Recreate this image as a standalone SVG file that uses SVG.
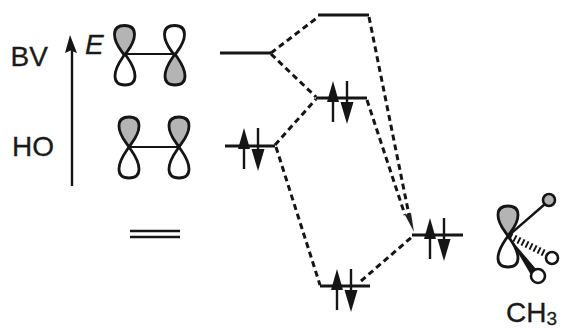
<svg xmlns="http://www.w3.org/2000/svg" width="563" height="329" viewBox="0 0 563 329">
<style>
.t{font-family:"Liberation Sans",Arial,sans-serif;font-size:28px;fill:#1a1a1a;stroke:#1a1a1a;stroke-width:.3}
.lobe{stroke:#151515;stroke-width:2.8;stroke-linejoin:round}
.w{fill:#fff}.g{fill:#b4b4b4}
.bond{stroke:#151515;stroke-width:2.2;fill:none}
.lvl{stroke:#151515;stroke-width:2.8;fill:none}
.dash{stroke:#151515;stroke-width:3;stroke-dasharray:6 4;fill:none}
.a{stroke:#151515;stroke-width:2.4;fill:none}
.h{fill:#151515}
</style>
<defs>
<path id="lobeUp" d="M0,0 C-4,-6 -10,-12 -10,-21 C-10,-28 -6,-30 0,-30 C6,-30 10,-28 10,-21 C10,-12 4,-6 0,0Z"/>
<path id="lobeDn" d="M0,0 C-4,6 -10,13 -10,22 C-10,29 -6,31 0,31 C6,31 10,29 10,22 C10,13 4,6 0,0Z"/>
<g id="pair">
<path class="a" d="M0,14V41M14,0V30"/>
<path class="h" d="M0,0L6,21H-6Z"/>
<path class="h" d="M14,43L7.500,21H20.500Z"/>
</g>
</defs>

<g id="axis">
<path d="M72,186V48" stroke="#151515" stroke-width="2.4" fill="none"/>
<path class="h" d="M70,35L77,53L70.500,50.500L65,53Z"/>
<text class="t" x="85" y="54" font-style="italic">E</text>
</g>
<g id="label-bv"><text class="t" x="10.500" y="66">BV</text></g>
<g id="label-ho"><text class="t" x="12" y="156">HO</text></g>

<g id="orbital-bv">
<path class="bond" d="M125,54H175"/>
<use href="#lobeUp" x="124.500" y="55.500" class="lobe g"/>
<use href="#lobeDn" x="125" y="54" class="lobe w"/>
<use href="#lobeUp" x="174.500" y="55.500" class="lobe w"/>
<use href="#lobeDn" x="175" y="54" class="lobe g"/>
</g>
<g id="orbital-ho">
<path class="bond" d="M130,147H178"/>
<use href="#lobeUp" x="129" y="147" class="lobe g"/>
<use href="#lobeDn" x="129" y="147" class="lobe w"/>
<use href="#lobeUp" x="179" y="147" class="lobe g"/>
<use href="#lobeDn" x="179" y="147" class="lobe w"/>
</g>
<g id="double-bond">
<path d="M130,231H180M130,237H180" stroke="#151515" stroke-width="2.4" fill="none"/>
</g>

<g id="connectors">
<path class="dash" d="M271,53L318,17"/>
<path class="dash" d="M271,54L316,97"/>
<path class="dash" d="M275,145L316,99"/>
<path class="dash" d="M276,147L320,285"/>
<path class="dash" d="M369,17L409,215"/>
<path class="dash" d="M367,100L405,215"/>
<path class="dash" d="M361,281L413,236"/>
<path d="M405,215L411,213L414,232Z" fill="#222"/>
</g>

<g id="level-bv"><path class="lvl" d="M220,53H271"/></g>
<g id="level-top"><path class="lvl" d="M318,15H369"/></g>
<g id="level-mid"><path class="lvl" d="M316,98H367"/><use href="#pair" x="333" y="81"/></g>
<g id="level-ho"><path class="lvl" d="M225,146H275"/><use href="#pair" x="244" y="128"/></g>
<g id="level-low"><path class="lvl" d="M320,286H370"/><use href="#pair" x="337" y="269"/></g>
<g id="level-right"><path class="lvl" d="M412,235H463"/><use href="#pair" x="430" y="218"/></g>

<g id="ch3">
<use href="#lobeUp" x="508" y="236" class="lobe g"/>
<use href="#lobeDn" x="508" y="236" class="lobe w"/>
<path d="M508,236L545,204" stroke="#151515" stroke-width="2.4" fill="none"/>
<circle cx="549" cy="200" r="6" fill="#b4b4b4" stroke="#151515" stroke-width="2.6"/>
<path d="M510,236L546,254" stroke="#151515" stroke-width="7" stroke-dasharray="2 2.500" fill="none"/>
<circle cx="552" cy="258" r="6" fill="#fff" stroke="#151515" stroke-width="2.6"/>
<path class="h" d="M508,236L536,269L531,275Z"/>
<circle cx="538" cy="276" r="7" fill="#fff" stroke="#151515" stroke-width="2.6"/>
<text x="506" y="322" class="t">CH<tspan style="font-size:19px" dy="3">3</tspan></text>
</g>
</svg>
